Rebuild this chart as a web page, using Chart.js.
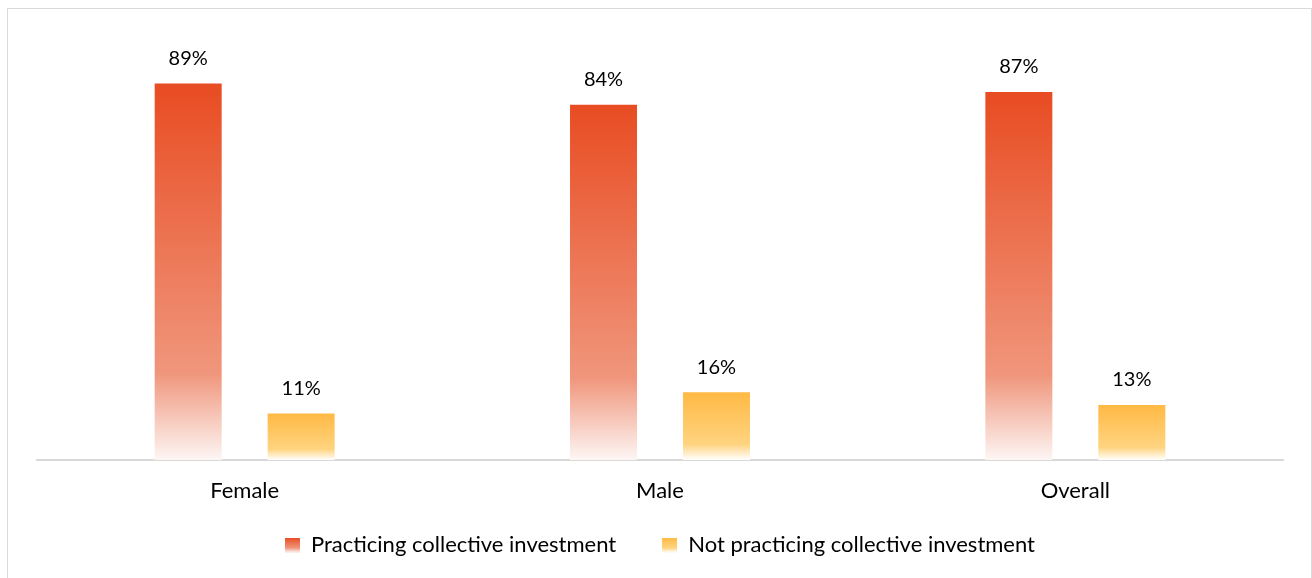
<!DOCTYPE html>
<html>
<head>
<meta charset="utf-8">
<script src="https://cdn.jsdelivr.net/npm/chart.js@4/dist/chart.umd.min.js"></script>
<style>
  html, body { margin: 0; padding: 0; background: #ffffff; overflow: hidden; }
  #wrap { position: relative; width: 1312px; height: 578px; }
  #frame {
    position: absolute; left: 7px; top: 8px; width: 1303px; height: 600px;
    border: 1px solid #d9d9d9; pointer-events: none;
  }
  canvas { position: absolute; left: 0; top: 0; }
</style>
</head>
<body>
<div id="wrap">
  <canvas id="chart" width="1312" height="578"></canvas>
  <div id="frame"></div>
</div>
<script>
// Share of respondents by gender, in percent
const categories = ['Female', 'Male', 'Overall'];
const practicing = [89, 84, 87];
const notPracticing = [11, 16, 13];
const seriesNames = ['Practicing collective investment', 'Not practicing collective investment'];

const FONT = 'Lato, "Open Sans", sans-serif';

// Each bar fades from its solid top colour into white near the base
const palettes = [
  { top: 'rgb(232,76,34)', mid: 'rgb(240,150,124)', bottom: 'rgb(253,246,244)' },
  { top: 'rgb(255,185,68)', mid: 'rgb(255,212,128)', bottom: 'rgb(255,255,255)' }
];

function barGradient(context) {
  const chart = context.chart;
  const pal = palettes[context.datasetIndex];
  const yScale = chart.scales && chart.scales.y;
  if (!yScale || context.raw === undefined) return pal.top;
  const yTop = yScale.getPixelForValue(context.raw);
  const yBase = yScale.getPixelForValue(0);
  if (!isFinite(yTop) || !isFinite(yBase) || yTop === yBase) return pal.top;
  const g = chart.ctx.createLinearGradient(0, yTop, 0, yBase);
  g.addColorStop(0, pal.top);
  g.addColorStop(0.77, pal.mid);
  g.addColorStop(1, pal.bottom);
  return g;
}

// Small gradient swatches for the legend
function swatch(pal) {
  const c = document.createElement('canvas');
  c.width = 15; c.height = 15;
  const x = c.getContext('2d');
  const g = x.createLinearGradient(0, 0, 0, 15);
  g.addColorStop(0, pal.top);
  g.addColorStop(0.7, pal.mid);
  g.addColorStop(1, pal.bottom);
  x.fillStyle = g;
  x.fillRect(0, 0, 15, 15);
  return c;
}
const swatches = palettes.map(swatch);

const valueLabels = {
  id: 'valueLabels',
  afterDatasetsDraw(chart) {
    const ctx = chart.ctx;
    ctx.save();
    ctx.font = '20px ' + FONT;
    ctx.fillStyle = '#000000';
    ctx.textAlign = 'center';
    ctx.textBaseline = 'middle';
    chart.data.datasets.forEach((ds, di) => {
      const meta = chart.getDatasetMeta(di);
      meta.data.forEach((el, i) => {
        ctx.fillText(ds.data[i] + '%', el.x, el.y - 25);
      });
    });
    ctx.restore();
  }
};

// The category axis is kept short so the legend sits close to it;
// widen its label clip so the category names are not cut off.
const axisLabelRoom = {
  id: 'axisLabelRoom',
  afterLayout(chart) {
    const x = chart.scales.x;
    x.bottom = x.top + 60;
  }
};

new Chart(document.getElementById('chart'), {
  type: 'bar',
  data: {
    labels: categories,
    datasets: [
      { label: seriesNames[0], data: practicing, backgroundColor: barGradient },
      { label: seriesNames[1], data: notPracticing, backgroundColor: barGradient }
    ]
  },
  options: {
    responsive: false,
    animation: false,
    devicePixelRatio: 1,
    layout: { padding: { left: 37, right: 29, top: 37, bottom: 12 } },
    datasets: { bar: { categoryPercentage: 0.544, barPercentage: 0.593 } },
    scales: {
      x: {
        grid: { display: false, drawTicks: false },
        border: { display: true, color: '#d9d9d9', width: 2 },
        ticks: { color: '#000000', font: { family: FONT, size: 22 }, padding: 18 },
        afterFit(scale) { scale.height = 28; }
      },
      y: {
        display: false,
        min: 0,
        max: 100
      }
    },
    plugins: {
      legend: {
        position: 'bottom',
        labels: {
          color: '#000000',
          font: { family: FONT, size: 22 },
          usePointStyle: true,
          boxWidth: 15,
          boxHeight: 15,
          padding: 46,
          generateLabels(chart) {
            return chart.data.datasets.map((ds, i) => ({
              text: ds.label,
              datasetIndex: i,
              pointStyle: swatches[i],
              fillStyle: palettes[i].top,
              strokeStyle: 'transparent',
              lineWidth: 0,
              hidden: false,
              fontColor: '#000000'
            }));
          }
        }
      },
      tooltip: { enabled: false }
    }
  },
  plugins: [valueLabels, axisLabelRoom]
});
</script>
</body>
</html>
